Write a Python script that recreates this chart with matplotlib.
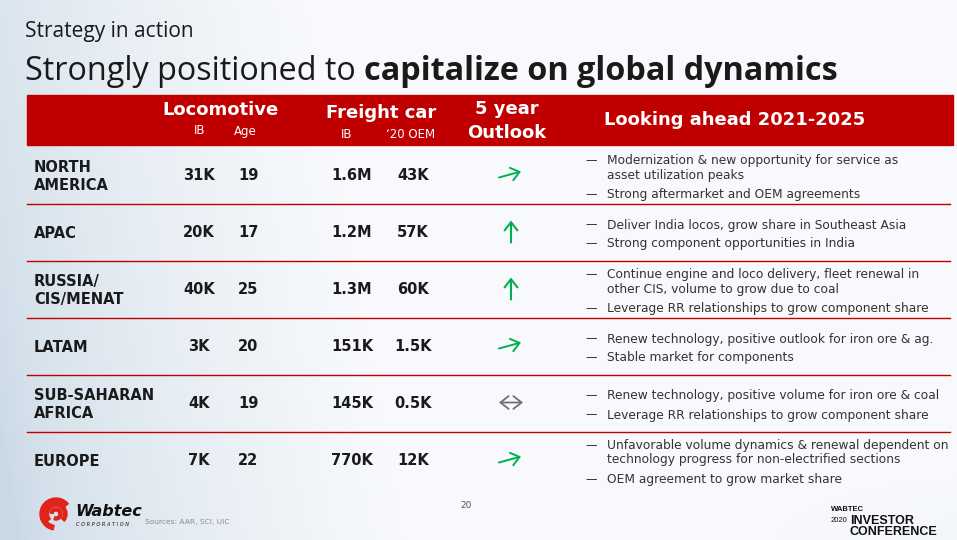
import numpy as np
import matplotlib.pyplot as plt
from matplotlib.patches import Rectangle, Wedge

# table content
regions = ["NORTH\nAMERICA", "APAC", "RUSSIA/\nCIS/MENAT", "LATAM", "SUB-SAHARAN\nAFRICA", "EUROPE"]
loco_ib = ["31K", "20K", "40K", "3K", "4K", "7K"]
loco_age = ["19", "17", "25", "20", "19", "22"]
freight_ib = ["1.6M", "1.2M", "1.3M", "151K", "145K", "770K"]
freight_oem = ["43K", "57K", "60K", "1.5K", "0.5K", "12K"]
outlook = ["diag", "up", "up", "diag", "flat", "diag"]
bullets = [
    ["Modernization & new opportunity for service as\nasset utilization peaks",
     "Strong aftermarket and OEM agreements"],
    ["Deliver India locos, grow share in Southeast Asia",
     "Strong component opportunities in India"],
    ["Continue engine and loco delivery, fleet renewal in\nother CIS, volume to grow due to coal",
     "Leverage RR relationships to grow component share"],
    ["Renew technology, positive outlook for iron ore & ag.",
     "Stable market for components"],
    ["Renew technology, positive volume for iron ore & coal",
     "Leverage RR relationships to grow component share"],
    ["Unfavorable volume dynamics & renewal dependent on\ntechnology progress for non-electrified sections",
     "OEM agreement to grow market share"],
]

RED = "#C00000"
GREEN = "#00B050"
TXT = "#1a1a1a"
FONT = "DejaVu Sans"

fig = plt.figure(figsize=(9.57, 5.40), dpi=100)
ax = fig.add_axes([0, 0, 1, 1])
ax.set_xlim(0, 957)
ax.set_ylim(540, 0)
ax.axis("off")

# background gradient
X, Y = np.meshgrid(np.linspace(0, 1, 480), np.linspace(0, 1, 270))
t = np.clip(X * 2.4 + (1 - Y) * 0.25 - 0.05, 0, 1) ** 0.6
t = t - 0.10 * np.clip((X - 0.75) * 4, 0, 1) * np.clip((Y - 0.85) * 7, 0, 1)
left = np.array([0.79, 0.85, 0.90])
right = np.array([0.975, 0.98, 0.99])
img = left[None, None, :] * (1 - t[..., None]) + right[None, None, :] * t[..., None]
ax.imshow(img, extent=[0, 957, 540, 0], aspect="auto", zorder=0)

# titles
ax.text(25, 31, "Strategy in action", fontsize=15, family="Open Sans", color=TXT, va="center")
r = fig.canvas.get_renderer()
t1 = ax.text(25, 72, "Strongly positioned to ", fontsize=23.3, family="Open Sans", color=TXT, va="center")
x_end = t1.get_window_extent(r).x1
ax.text(x_end, 72, "capitalize on global dynamics", fontsize=23.3, family="Open Sans",
        weight="bold", color=TXT, va="center")

# header band
ax.add_patch(Rectangle((27, 95), 926, 50, color=RED, zorder=1))
hdr = dict(color="white", family=FONT, ha="center", va="center", zorder=2)
ax.text(221, 110, "Locomotive", fontsize=13, weight="bold", **hdr)
ax.text(200, 131, "IB", fontsize=8.5, **hdr)
ax.text(245, 131, "Age", fontsize=8.5, **hdr)
ax.text(381, 113, "Freight car", fontsize=13, weight="bold", **hdr)
ax.text(347, 134, "IB", fontsize=8.5, **hdr)
ax.text(411, 134, "\u201820 OEM", fontsize=8.5, **hdr)
ax.text(507, 109, "5 year", fontsize=13, weight="bold", **hdr)
ax.text(507, 133, "Outlook", fontsize=13, weight="bold", **hdr)
ax.text(735, 120, "Looking ahead 2021-2025", fontsize=13, weight="bold", **hdr)

# rows
row_top = 147
row_h = 57
col_x = [199, 248, 352, 413]
head = ", head_length=0.42, head_width=0.33"
for i in range(len(regions)):
    top = row_top + i * row_h
    cy = top + row_h / 2
    if i > 0:
        ax.plot([27, 950], [top, top], color=RED, lw=1, zorder=2)
    ax.text(34, cy + 1, regions[i], fontsize=10.5, weight="bold", family=FONT, color=TXT,
            va="center", linespacing=1.32)
    for x, v in zip(col_x, [loco_ib[i], loco_age[i], freight_ib[i], freight_oem[i]]):
        ax.text(x, cy, v, fontsize=10.5, weight="bold", family=FONT, color=TXT,
                ha="center", va="center")
    # outlook arrow
    ox = 511
    kind = outlook[i]
    if kind == "up":
        ax.annotate("", xy=(ox, cy - 12), xytext=(ox, cy + 10),
                    arrowprops=dict(arrowstyle="->" + head, color=GREEN, lw=1.5,
                                    mutation_scale=14, shrinkA=0, shrinkB=0))
    elif kind == "diag":
        ax.annotate("", xy=(ox + 10, cy - 4), xytext=(ox - 12, cy + 2),
                    arrowprops=dict(arrowstyle="->" + head, color=GREEN, lw=1.4,
                                    mutation_scale=14, shrinkA=0, shrinkB=0))
    else:
        ax.annotate("", xy=(ox + 12, cy - 1), xytext=(ox - 12, cy - 1),
                    arrowprops=dict(arrowstyle="<->" + head, color="#707070", lw=1.3,
                                    mutation_scale=14, shrinkA=0, shrinkB=0))
    # bullets
    lines = sum(b.count("\n") + 1 for b in bullets[i])
    lh = 15
    gap = 4
    total = lines * lh + gap * (len(bullets[i]) - 1)
    y = cy + 1 - total / 2 + lh / 2
    for b in bullets[i]:
        n = b.count("\n") + 1
        ax.text(585, y + 1, "\u2014", fontsize=8.3, family=FONT, color="#333333", va="center")
        ax.text(607, y - lh / 2 + 2, b, fontsize=8.85, family=FONT, color="#333333", va="top",
                linespacing=1.15)
        y += n * lh + gap

# footer logo
for r0, a1, a2, w in [(16, 100, 320, 4.5), (11, 140, 400, 3.5), (6, 190, 470, 3)]:
    ax.add_patch(Wedge((56, 514), r0, a1, a2, width=w, color="#e2231a", zorder=3))
ax.text(75, 511, "Wabtec", fontsize=11.5, weight="bold", style="italic", family=FONT,
        color="#111111", va="center")
ax.text(76, 524, "C O R P O R A T I O N", fontsize=3.6, style="italic", family=FONT,
        color="#111111", va="center")
ax.text(145, 522, "Sources: AAR, SCI, UIC", fontsize=5.4, family=FONT, color="#8a8a8a", va="center")
ax.text(466, 505, "20", fontsize=6.5, family=FONT, color="#555555", ha="center", va="center")

ax.text(831, 511, "WABTEC", fontsize=5.5, weight="bold", family="Liberation Sans", color="#111",
        va="baseline")
ax.text(831, 522, "2020", fontsize=5.5, family="Liberation Sans", color="#111", va="baseline")
ax.text(850, 524, "INVESTOR", fontsize=9, weight="bold", family="Liberation Sans", color="#111",
        va="baseline")
ax.text(850, 535, "CONFERENCE", fontsize=9, weight="bold", family="Liberation Sans", color="#111",
        va="baseline")

fig.savefig("out.png", dpi=100)
